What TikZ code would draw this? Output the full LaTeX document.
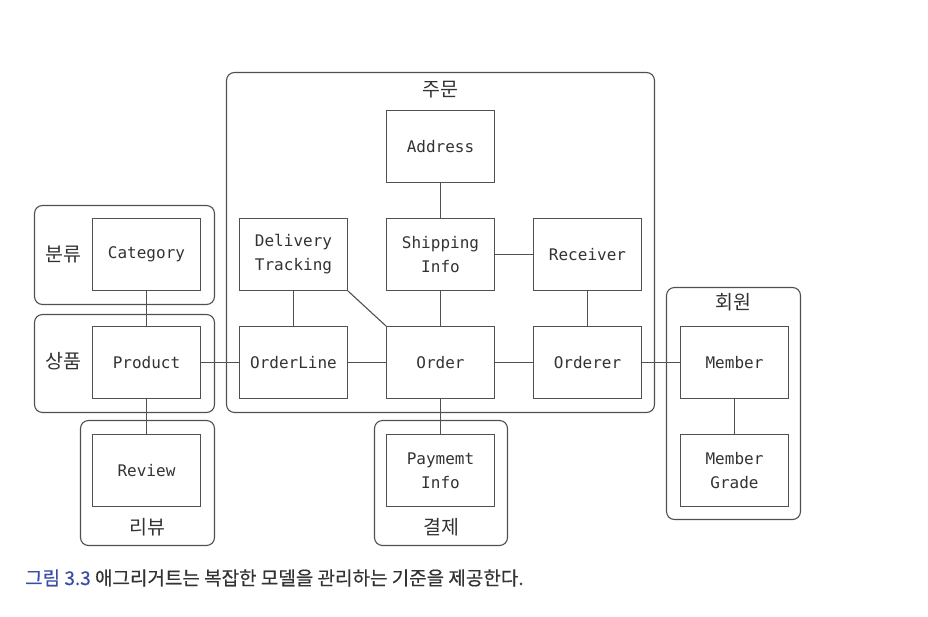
\documentclass[tikz,border=0pt]{standalone}
\usepackage{fontspec}
\newfontfamily\kr{Noto Sans CJK KR}
\newfontfamily\krcap[FakeBold=0.4]{Noto Sans CJK KR}
\newfontfamily\mono{DejaVu Sans Mono}
\definecolor{ln}{HTML}{505050}
\definecolor{capblue}{HTML}{3B4BA8}
\definecolor{txt}{HTML}{333333}
\tikzset{
  ent/.style={draw=ln, line width=1.1pt, fill=white, minimum width=108pt, minimum height=72pt, inner sep=0pt,
    font=\mono\fontsize{16}{24}\selectfont, text=txt, align=center},
  grp/.style={draw=ln, line width=1.1pt, rounded corners=8pt, inner sep=0pt},
  glabel/.style={font=\kr\fontsize{19.5}{22}\selectfont, text=txt, inner sep=0pt},
  conn/.style={draw=ln, line width=1.1pt}
}
\begin{document}
\begin{tikzpicture}[x=1pt,y=-1pt]
\useasboundingbox (0,0) rectangle (928,616);
% groups
\node[grp, minimum width=428pt, minimum height=340pt] (gorder) at (440.5,242.5) {};
\node[grp, minimum width=180pt, minimum height=99pt] (gcat) at (124.5,255) {};
\node[grp, minimum width=180pt, minimum height=98pt] (gprod) at (124.5,363.5) {};
\node[grp, minimum width=134pt, minimum height=125pt] (grev) at (147.5,483) {};
\node[grp, minimum width=133pt, minimum height=125pt] (gpay) at (441,483) {};
\node[grp, minimum width=134pt, minimum height=232pt] (gmem) at (733.5,403.5) {};
% group labels
\node[glabel] (lorder) at (440.5,90) {주문};
\node[glabel] (lcat) at (63,254) {분류};
\node[glabel] (lprod) at (63,361) {상품};
\node[glabel] (lrev) at (147.5,527) {리뷰};
\node[glabel] (lpay) at (441,527) {결제};
\node[glabel] (lmem) at (733.5,302) {회원};
% entities
\node[ent] (address) at (440.5,146.5) {Address};
\node[ent] (delivery) at (293.5,254.5) {Delivery\\Tracking};
\node[ent] (shipping) at (440.5,254.5) {Shipping\\Info};
\node[ent] (receiver) at (587.5,254.5) {Receiver};
\node[ent] (orderline) at (293.5,362.5) {OrderLine};
\node[ent] (order) at (440.5,362.5) {Order};
\node[ent] (orderer) at (587.5,362.5) {Orderer};
\node[ent] (category) at (146.5,254.5) {Category};
\node[ent] (product) at (146.5,362.5) {Product};
\node[ent] (review) at (146.5,470.5) {Review};
\node[ent] (payment) at (440.5,470.5) {Paymemt\\Info};
\node[ent] (member) at (734.5,362.5) {Member};
\node[ent] (grade) at (734.5,470.5) {Member\\Grade};
% connectors
\draw[conn] (address) -- (shipping);
\draw[conn] (shipping) -- (receiver);
\draw[conn] (delivery) -- (orderline);
\draw[conn] (delivery.south east) -- (order.north west);
\draw[conn] (shipping) -- (order);
\draw[conn] (receiver) -- (orderer);
\draw[conn] (orderline) -- (order);
\draw[conn] (order) -- (orderer);
\draw[conn] (orderer) -- (member);
\draw[conn] (product) -- (orderline);
\draw[conn] (category) -- (product);
\draw[conn] (product) -- (review);
\draw[conn] (order) -- (payment);
\draw[conn] (member) -- (grade);
% caption
\node[anchor=base west, inner sep=0pt, font=\krcap\fontsize{19}{22}\selectfont, text=txt] (caption) at (25,585)
  {\textcolor{capblue}{그림 3.3} 애그리거트는 복잡한 모델을 관리하는 기준을 제공한다.};
\end{tikzpicture}
\end{document}
